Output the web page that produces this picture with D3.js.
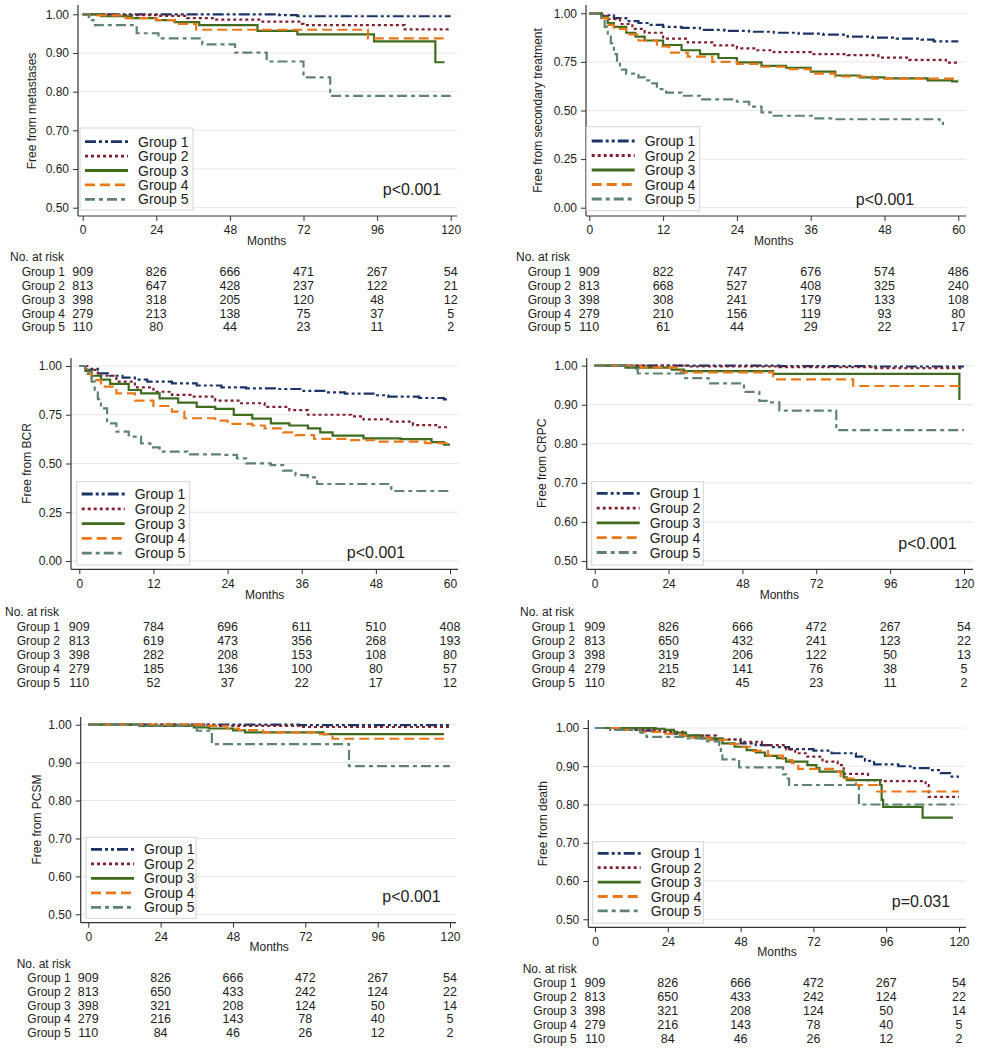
<!DOCTYPE html>
<html><head><meta charset="utf-8">
<script src="https://cdn.jsdelivr.net/npm/d3@7"></script>
<style>
html,body{margin:0;padding:0;background:#fff;}
svg text{font-family:"Liberation Sans",Arial,sans-serif;fill:#222;}
</style></head>
<body><svg id="chart" width="981" height="1050"></svg>
<script>
// ---------------- DATA ----------------
const groups = ["Group 1","Group 2","Group 3","Group 4","Group 5"];
const ticks120 = [0,24,48,72,96,120];
const ticks60 = [0,12,24,36,48,60];
const yTicksHalf = [0.5,0.6,0.7,0.8,0.9,1.0];
const yTicksFull = [0,0.25,0.5,0.75,1.0];

// Free from metastases
const met1 = [[0,1],[64,0.998],[70,0.995],[120,0.995]];
const met2 = [[0,1],[10,0.998],[24,0.996],[34,0.99],[43,0.986],[58,0.981],[71,0.975],[72,0.972],[105,0.961],[120,0.961]];
const met3 = [[0,1],[6,0.995],[16,0.99],[24,0.985],[30,0.98],[38,0.972],[57,0.957],[70,0.948],[95,0.93],[115,0.876],[118,0.876]];
const met4 = [[0,1],[2,0.997],[14,0.99],[24,0.985],[30,0.975],[37,0.96],[93,0.938],[118,0.938]];
const met5 = [[0,1],[2,0.985],[3.5,0.972],[17.6,0.951],[24.7,0.938],[39,0.922],[49.7,0.901],[60,0.878],[72,0.837],[80.7,0.789],[120,0.789]];
const metRisk = [[909,826,666,471,267,54],[813,647,428,237,122,21],[398,318,205,120,48,12],[279,213,138,75,37,5],[110,80,44,23,11,2]];

// Free from secondary treatment
const sec1 = [[0,1],[2,0.99],[4,0.975],[6,0.96],[8,0.95],[10,0.94],[12,0.93],[15,0.925],[18,0.915],[22,0.91],[26,0.905],[30,0.9],[34,0.895],[38,0.89],[42,0.88],[46,0.875],[50,0.87],[54,0.865],[56,0.856],[60,0.856]];
const sec2 = [[0,1],[2,0.985],[3,0.97],[5,0.945],[7,0.92],[9,0.9],[12,0.87],[16,0.85],[20,0.835],[24,0.82],[27,0.81],[30,0.8],[36,0.79],[42,0.785],[47,0.772],[52,0.76],[58,0.746],[60,0.742]];
const sec3 = [[0,1],[2,0.98],[3,0.95],[4,0.93],[6,0.9],[7.5,0.88],[9,0.86],[12,0.837],[15,0.81],[18,0.79],[21,0.77],[24,0.748],[28,0.73],[32,0.72],[36,0.7],[40,0.68],[44,0.67],[48,0.665],[55,0.655],[59,0.65],[60,0.65]];
const sec4 = [[0,1],[2,0.975],[3,0.94],[4,0.92],[6,0.892],[8,0.86],[11,0.83],[13,0.798],[16,0.777],[20,0.75],[24,0.74],[28,0.725],[32,0.713],[36,0.69],[40,0.675],[46,0.664],[60,0.66]];
const sec5 = [[0,1],[2,0.97],[2.5,0.93],[3,0.88],[3.5,0.846],[4,0.79],[4.5,0.74],[5,0.71],[6,0.69],[8,0.67],[9,0.655],[10,0.64],[11,0.61],[12.5,0.592],[15,0.576],[18,0.557],[24,0.545],[26,0.52],[28,0.49],[30,0.473],[36.5,0.46],[40,0.455],[57,0.45],[57.5,0.425]];
const secRisk = [[909,822,747,676,574,486],[813,668,527,408,325,240],[398,308,241,179,133,108],[279,210,156,119,93,80],[110,61,44,29,22,17]];

// Free from BCR
const bcr1 = [[0,1],[1,0.985],[3,0.962],[5,0.95],[7,0.94],[9,0.93],[11,0.92],[15,0.911],[19,0.9],[23,0.89],[27,0.885],[32,0.882],[36,0.872],[40,0.865],[43,0.858],[48,0.85],[50,0.843],[55,0.836],[59,0.829],[60,0.829]];
const bcr2 = [[0,1],[1.5,0.98],[3,0.95],[6,0.92],[9,0.89],[12,0.868],[15,0.852],[18,0.843],[22,0.822],[26,0.809],[30,0.79],[34,0.774],[37,0.75],[44,0.742],[46,0.726],[50,0.715],[54,0.697],[58,0.686],[60,0.686]];
const bcr3 = [[0,1],[1,0.975],[2,0.95],[3.5,0.93],[5,0.908],[8,0.877],[10,0.86],[13,0.834],[16,0.812],[19,0.79],[22,0.78],[25,0.749],[28,0.73],[31,0.706],[34,0.695],[37,0.68],[39,0.66],[41,0.643],[46,0.629],[52,0.625],[57,0.61],[59,0.597],[60,0.597]];
const bcr4 = [[0,1],[1,0.96],[2,0.928],[3.5,0.894],[6,0.86],[9,0.822],[12,0.795],[15,0.766],[17,0.732],[22,0.72],[24,0.703],[28,0.695],[30,0.68],[33,0.66],[35,0.646],[38,0.626],[44,0.62],[48,0.612],[56,0.605],[60,0.602]];
const bcr5 = [[0,1],[1,0.97],[1.5,0.954],[2,0.92],[2.5,0.877],[3,0.83],[3.5,0.783],[4.5,0.706],[6,0.663],[8,0.638],[10,0.603],[11.5,0.583],[13,0.561],[17.5,0.547],[23,0.544],[25.5,0.526],[27,0.501],[31,0.492],[33,0.463],[35,0.44],[37,0.429],[38.5,0.395],[50.5,0.359],[60,0.359]];
const bcrRisk = [[909,784,696,611,510,408],[813,619,473,356,268,193],[398,282,208,153,108,80],[279,185,136,100,80,57],[110,52,37,22,17,12]];

// Free from CRPC
const crpc1 = [[0,1],[60,0.999],[90,0.998],[120,0.998]];
const crpc2 = [[0,1],[30,0.998],[60,0.996],[90,0.994],[120,0.994]];
const crpc3 = [[0,1],[10,0.995],[25,0.99],[29,0.986],[58,0.979],[118.5,0.912]];
const crpc4 = [[0,1],[15,0.995],[28,0.983],[58,0.965],[84,0.948],[120,0.948]];
const crpc5 = [[0,1],[12,0.991],[14,0.98],[29,0.968],[37,0.955],[48.5,0.933],[53.5,0.91],[56,0.906],[60,0.885],[78.5,0.835],[120,0.835]];
const crpcRisk = [[909,826,666,472,267,54],[813,650,432,241,123,22],[398,319,206,122,50,13],[279,215,141,76,38,5],[110,82,45,23,11,2]];

// Free from PCSM
const pcsm1 = [[0,1],[70,0.999],[120,0.999]];
const pcsm2 = [[0,1],[40,0.997],[70,0.994],[120,0.994]];
const pcsm3 = [[0,1],[17,0.997],[35,0.993],[40,0.99],[48,0.985],[52,0.98],[78,0.975],[118,0.975]];
const pcsm4 = [[0,1],[38,0.997],[46,0.99],[50,0.986],[58,0.98],[76,0.975],[81,0.963],[118,0.963]];
const pcsm5 = [[0,1],[17,0.997],[36,0.984],[41,0.949],[86.5,0.891],[120,0.891]];
const pcsmRisk = [[909,826,666,472,267,54],[813,650,433,242,124,22],[398,321,208,124,50,14],[279,216,143,78,40,5],[110,84,46,26,12,2]];

// Free from death
const death1 = [[0,1],[5,0.997],[15,0.993],[25,0.985],[30,0.98],[38,0.97],[48,0.96],[53,0.955],[58,0.95],[64,0.945],[72,0.941],[78,0.934],[86,0.925],[89,0.914],[92,0.905],[100,0.9],[104,0.895],[110,0.89],[114,0.882],[117,0.873],[120,0.873]];
const death2 = [[0,1],[10,0.995],[20,0.99],[30,0.98],[40,0.97],[48,0.964],[55,0.955],[63,0.944],[66,0.934],[70,0.925],[75,0.912],[80,0.903],[82,0.88],[90,0.864],[95,0.861],[109,0.851],[110,0.82],[120,0.82]];
const death3 = [[0,1],[20,0.998],[23,0.995],[26,0.988],[30,0.98],[35,0.973],[42,0.96],[46,0.951],[50,0.942],[53,0.936],[56,0.927],[60,0.921],[63,0.912],[70,0.903],[73,0.895],[74,0.886],[82,0.871],[83,0.864],[94,0.851],[94.5,0.812],[95,0.794],[108,0.766],[118,0.766]];
const death4 = [[0,1],[8,0.995],[15,0.99],[22,0.985],[28,0.98],[32,0.975],[38,0.969],[44,0.958],[48,0.951],[52,0.94],[57,0.928],[62,0.916],[65,0.908],[67,0.893],[80,0.886],[81,0.868],[86,0.851],[93,0.834],[120,0.834]];
const death5 = [[0,1],[5,0.995],[15,0.988],[17,0.977],[30,0.973],[37,0.965],[41,0.956],[41.5,0.94],[42,0.918],[47.5,0.897],[62,0.879],[63,0.868],[64,0.851],[87,0.8],[120,0.8]];
const deathRisk = [[909,826,666,472,267,54],[813,650,433,242,124,22],[398,321,208,124,50,14],[279,216,143,78,40,5],[110,84,46,26,12,2]];

const yLabels = ["Free from metastases","Free from secondary treatment","Free from BCR","Free from CRPC","Free from PCSM","Free from death"];
const pLabels = ["p<0.001","p<0.001","p<0.001","p<0.001","p<0.001","p=0.031"];

// ---------------- STYLE ----------------
const colors = ["#1d3466","#80202e","#3f6b1f","#e8781a","#5f8273"];
const dashes = ["11,3,3,3,3,3","3,3",null,"10,5","10,4,4,4"];

// ---------------- LAYOUT ----------------
const panels = [
 {curves:[met1,met2,met3,met4,met5], risk:metRisk, xt:ticks120, yt:yTicksHalf, ymin:0.5,
  axL:78, x0:82.7, x1:450.7, yTop:14.3, yBot:207.7, axB:216, axR:457, axT:5,
  xtY:230, monY:240.5, ylX:31.7, legX:80, legY:128, legW:113, legH:82, legRow0:141.7, legDy:14.4,
  pX:412, pY:189, narX:10, grX:21.7, narY:257, row0:272.3, rowDy:13.75},
 {curves:[sec1,sec2,sec3,sec4,sec5], risk:secRisk, xt:ticks60, yt:yTicksFull, ymin:0,
  axL:586, x0:589.3, x1:958.3, yTop:13.3, yBot:207.7, axB:216, axR:966, axT:5,
  xtY:230, monY:240.5, ylX:537.7, legX:586.7, legY:126.7, legW:113, legH:84, legRow0:141, legDy:14.5,
  pX:885, pY:199.3, narX:516, grX:527.7, narY:257, row0:272.3, rowDy:13.75},
 {curves:[bcr1,bcr2,bcr3,bcr4,bcr5], risk:bcrRisk, xt:ticks60, yt:yTicksFull, ymin:0,
  axL:71, x0:79.3, x1:450, yTop:366, yBot:561, axB:569.3, axR:458, axT:358,
  xtY:584, monY:595, ylX:26.7, legX:76.7, legY:481.7, legW:113, legH:83.3, legRow0:494, legDy:14.8,
  pX:376, pY:552.7, narX:5, grX:16.7, narY:612.3, row0:626.7, rowDy:14},
 {curves:[crpc1,crpc2,crpc3,crpc4,crpc5], risk:crpcRisk, xt:ticks120, yt:yTicksHalf, ymin:0.5,
  axL:586.7, x0:594.7, x1:964, yTop:365.7, yBot:561, axB:569.3, axR:973, axT:358,
  xtY:584, monY:595, ylX:541.7, legX:591.7, legY:481.7, legW:111.6, legH:83.3, legRow0:493.3, legDy:14.8,
  pX:927.5, pY:543.3, narX:520, grX:531.7, narY:612.3, row0:626.7, rowDy:14},
 {curves:[pcsm1,pcsm2,pcsm3,pcsm4,pcsm5], risk:pcsmRisk, xt:ticks120, yt:yTicksHalf, ymin:0.5,
  axL:80.7, x0:88.3, x1:450, yTop:724.7, yBot:914.3, axB:922.7, axR:456, axT:717,
  xtY:936.7, monY:947.3, ylX:36.7, legX:86, legY:837.3, legW:110, legH:81, legRow0:849.3, legDy:14.5,
  pX:411.5, pY:896.7, narX:16.7, grX:27.3, narY:964.3, row0:978.3, rowDy:13.6},
 {curves:[death1,death2,death3,death4,death5], risk:deathRisk, xt:ticks120, yt:yTicksHalf, ymin:0.5,
  axL:588.3, x0:595, x1:959, yTop:728, yBot:919.3, axB:927.3, axR:966, axT:720,
  xtY:942, monY:952.3, ylX:543.3, legX:592.7, legY:841.7, legW:110.6, legH:81.6, legRow0:853.3, legDy:14.4,
  pX:921, pY:901.7, narX:522.7, grX:533.3, narY:969.3, row0:983.3, rowDy:13.85}
];

const svg = d3.select("#chart");
const axisColor = "#333";

panels.forEach((P, pi) => {
  const tmax = P.xt[P.xt.length-1];
  const x = d3.scaleLinear().domain([0, tmax]).range([P.x0, P.x1]);
  const y = d3.scaleLinear().domain([P.ymin, 1]).range([P.yBot, P.yTop]);
  const g = svg.append("g");

  // grid
  g.selectAll(null).data(P.yt).join("line")
    .attr("x1", P.axL).attr("x2", P.axR)
    .attr("y1", d => y(d)).attr("y2", d => y(d))
    .attr("stroke", "#e6e6e6").attr("stroke-width", 1);

  // axes
  const ya = g.append("g").attr("transform", `translate(${P.axL},0)`)
    .call(d3.axisLeft(y).tickValues(P.yt).tickFormat(d3.format(".2f")).tickSize(5).tickPadding(4).tickSizeOuter(0));
  ya.select(".domain").remove();
  const xa = g.append("g").attr("transform", `translate(0,${P.axB})`)
    .call(d3.axisBottom(x).tickValues(P.xt).tickFormat(d3.format("d")).tickSize(5).tickPadding(3).tickSizeOuter(0));
  xa.select(".domain").remove();
  [ya, xa].forEach(a => {
    a.selectAll("line").attr("stroke", axisColor);
    a.selectAll("text").style("font-size", "12px").attr("fill", "#222")
      .style("font-family", '"Liberation Sans",Arial,sans-serif');
  });
  xa.selectAll("text").attr("dy", null)
    .each(function(){ d3.select(this).attr("y", P.xtY - P.axB).attr("dominant-baseline","central"); });
  g.append("line").attr("x1", P.axL).attr("x2", P.axL).attr("y1", P.axT).attr("y2", P.axB)
    .attr("stroke", axisColor).attr("stroke-width", 1.2);
  g.append("line").attr("x1", P.axL).attr("x2", P.axR).attr("y1", P.axB).attr("y2", P.axB)
    .attr("stroke", axisColor).attr("stroke-width", 1.2);

  // y label
  g.append("text").attr("transform", `translate(${P.ylX},${(P.yTop+P.yBot)/2}) rotate(-90)`)
    .attr("text-anchor", "middle").attr("dominant-baseline", "central")
    .style("font-size", "12px").text(yLabels[pi]);
  // Months
  g.append("text").attr("x", (P.x0+P.x1)/2).attr("y", P.monY)
    .attr("text-anchor", "middle").attr("dominant-baseline", "central")
    .style("font-size", "12px").text("Months");

  // curves
  const line = d3.line().x(d => x(d[0])).y(d => y(d[1])).curve(d3.curveStepAfter);
  P.curves.forEach((c, i) => {
    g.append("path").attr("d", line(c)).attr("fill", "none")
      .attr("stroke", colors[i]).attr("stroke-width", 2.2)
      .attr("stroke-dasharray", dashes[i]);
  });

  // legend
  g.append("rect").attr("x", P.legX).attr("y", P.legY).attr("width", P.legW).attr("height", P.legH)
    .attr("fill", "#fff").attr("stroke", "#d4d4d4").attr("stroke-width", 1);
  groups.forEach((name, i) => {
    const ry = P.legRow0 + i*P.legDy;
    g.append("line").attr("x1", P.legX+5).attr("x2", P.legX+48).attr("y1", ry).attr("y2", ry)
      .attr("stroke", colors[i]).attr("stroke-width", 2.8).attr("stroke-dasharray", dashes[i]);
    g.append("text").attr("x", P.legX+58).attr("y", ry).attr("dominant-baseline", "central")
      .style("font-size", "14px").text(name);
  });

  // p value
  g.append("text").attr("x", P.pX).attr("y", P.pY).attr("text-anchor", "middle")
    .attr("dominant-baseline", "central").style("font-size", "16px").text(pLabels[pi]);

  // risk table
  g.append("text").attr("x", P.narX).attr("y", P.narY).attr("dominant-baseline", "central")
    .style("font-size", "12px").text("No. at risk");
  P.risk.forEach((row, i) => {
    const ry = P.row0 + i*P.rowDy;
    g.append("text").attr("x", P.grX).attr("y", ry).attr("dominant-baseline", "central")
      .style("font-size", "12px").text(groups[i]);
    g.selectAll(null).data(row).join("text")
      .attr("x", (d, j) => x(P.xt[j])).attr("y", ry)
      .attr("text-anchor", "middle").attr("dominant-baseline", "central")
      .style("font-size", "12.5px").text(d => d);
  });
});
</script></body></html>
